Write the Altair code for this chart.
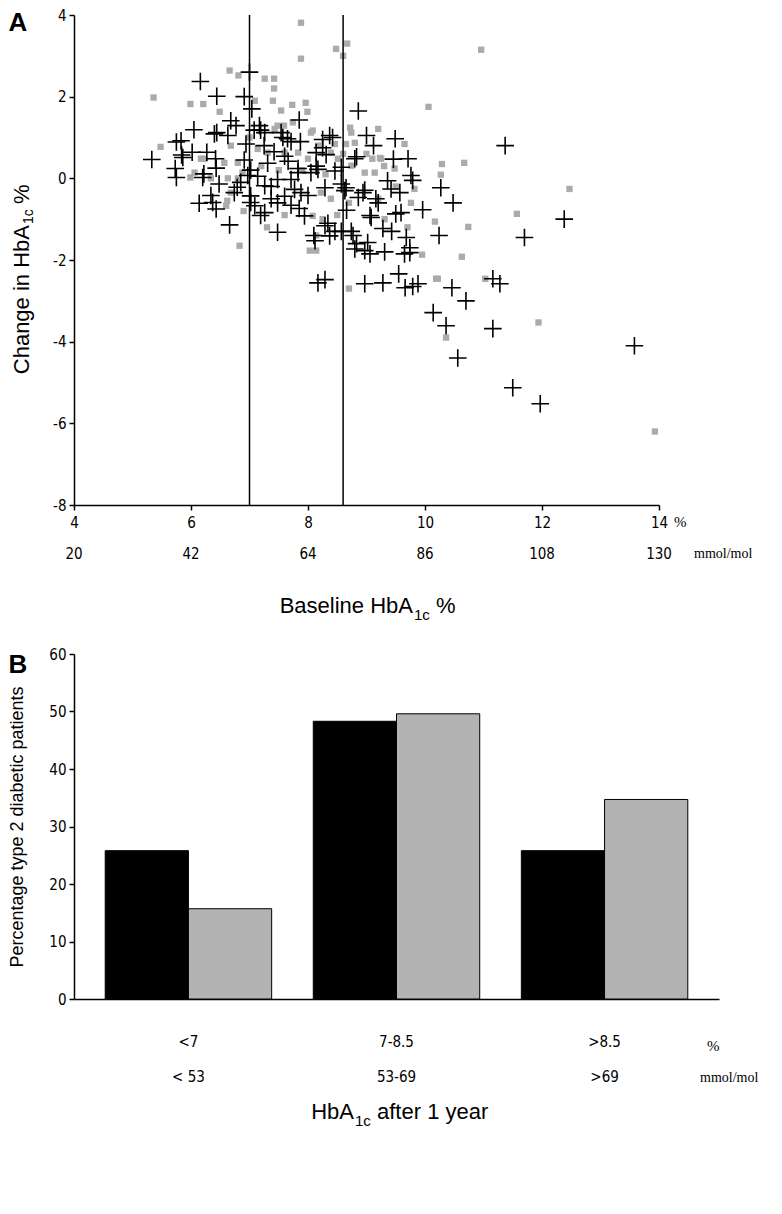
import altair as alt
import pandas as pd

# ---------------- Panel A data ----------------
cross_x = [5.33, 5.75, 5.73, 5.75, 5.84, 6.05, 6.16, 6.44, 6.44, 6.68, 6.66, 6.14, 6.37, 6.43, 6.22,
           6.02, 6.27, 6.43, 6.48, 6.34, 6.63, 6.79, 6.91, 7.0, 7.02, 6.94, 6.91, 7.02, 7.08, 7.19,
           7.25, 7.19, 7.48, 7.02, 7.14, 7.31, 7.42, 7.57, 7.71, 7.85, 7.87, 7.6, 7.66, 7.48, 7.37,
           7.6, 7.71, 7.83, 7.77, 7.71, 7.85, 8.0, 8.1, 8.17, 8.14, 8.25, 8.37, 8.31, 8.46, 8.57,
           8.57, 8.63, 8.66, 8.34, 8.46, 8.57, 8.74, 8.83, 8.86, 8.83, 8.97, 8.86, 9.0, 9.12, 8.97,
           9.08, 9.31, 9.43, 9.49, 9.46,
           8.17, 8.29, 8.97, 9.28, 9.55, 9.66, 9.79, 9.88, 10.46, 10.7, 10.14, 10.36, 11.16, 10.56,
           11.16, 11.28, 11.5, 11.97, 13.58,
           11.37, 10.27, 10.48, 9.96, 10.24, 11.7, 12.38, 9.76, 9.57, 9.71, 8.8, 9.36, 8.94, 9.16,
           9.06, 9.5, 9.28, 9.68, 8.77, 9.02, 8.8, 9.06, 9.65, 9.74,
           8.12, 8.37, 9.59, 9.74, 9.2, 9.42, 8.65, 8.05, 8.29, 7.88, 7.94, 7.26, 7.48, 7.37, 7.26,
           7.83, 8.29,
           8.42, 8.25, 7.65, 7.54, 8.14, 7.26,
           6.2, 6.74, 7.09, 6.85, 6.97,
           7.04, 6.77, 6.4, 5.83, 5.86, 6.42, 7.17, 9.79]
cross_y = [0.46, 0.89, 0.24, 0.02, 0.57, 1.19, 2.37, 2.01, 1.12, 1.41, -1.14, -0.61, -0.59, -0.75, 0.11,
           0.64, 0.64, 0.25, -0.14, -0.42, 1.05, -0.22, 2.0, 2.6, -0.43, 0.84, 0.45, 0.2, 1.18, 1.18,
           0.8, -0.91, -1.32, -0.59, 0.05, 0.37, 0.65, 1.0, 0.9, 1.43, 0.9, 0.54, 0.42, -0.03, -0.2,
           -0.44, -0.03, 0.14, -0.27, -0.66, -0.74, -0.42, -1.4, 0.22, 0.3, 0.95, 1.05, 0.58, 0.18, 0.27,
           -0.14, -0.3, -0.78, -1.1, -1.3, -1.3, -1.3, -1.6, 1.65, 0.53, -0.29, -0.47, 1.05, 0.8, -1.77,
           -0.96, -1.8, -1.3, 0.97, 0.47,
           -2.56, -2.48, -2.58, -2.56, -2.34, -2.68, -2.65, -2.58, -2.68, -3.0, -3.29, -3.61, -3.68, -4.4,
           -2.46, -2.58, -5.13, -5.52, -4.1,
           0.8, -0.23, -0.6, -0.77, -1.4, -1.45, -1.0, 0.07, -0.35, 0.48, 0.48, -0.06, -0.35, -0.5,
           -0.91, -0.87, -1.23, -1.45, -1.4, -1.57, -1.73, -1.85, -1.85, -1.82,
           -1.53, -1.41, -0.84, -1.7, -0.6, -0.26, -0.23, 0.14, -0.23, -0.35, -0.92, -0.84, -0.6, -0.5, -0.18,
           0.24, -1.16,
           1.0, 0.75, 0.97, 1.12, 0.63, 1.12,
           0.02, -0.35, -0.67, -0.1, 0.07,
           1.7, 1.29, 1.09, 0.92, 0.51, 0.48, 1.29, -0.05]

gray_x = [5.36, 5.48, 5.99, 6.21, 5.99, 6.49, 6.66, 6.81, 6.83, 7.09, 7.26, 7.42, 7.42, 7.4, 7.54,
          7.73, 7.96, 7.99, 7.88, 7.88, 8.67, 8.6, 8.48, 7.59, 8.08, 8.03, 8.14, 8.14, 6.17, 6.06,
          6.6, 6.62, 6.68, 6.8, 6.88, 7.14, 7.31, 7.43, 7.6, 7.83, 8.0, 8.05, 8.17, 8.39, 8.51,
          8.74, 8.74, 8.8, 8.97, 8.22, 8.39, 8.25, 8.08, 9.25, 9.14, 9.31, 9.2, 6.57, 6.34, 6.23,
          6.63, 6.8, 6.68,
          8.7, 10.22, 11.03, 11.94, 10.36, 13.93,
          10.96, 10.06, 10.29, 10.67, 10.27, 12.47, 11.57, 10.74, 10.17, 9.76, 9.95, 10.63, 10.19, 9.2,
          9.65, 9.1, 9.23, 9.48, 9.82,
          7.74, 8.72, 7.48, 8.46, 8.65,
          7.0, 7.2, 7.5, 7.9, 8.3, 8.6, 9.0, 9.3, 6.9, 7.6, 8.7, 9.5, 7.3, 8.5, 9.7]
gray_y = [1.98, 0.77, 1.82, 1.82, 0.02, 1.63, 2.64, 2.52, -1.65, 1.9, 2.44, 2.44, 2.2, 1.9, 1.66,
          1.8, 1.85, 1.63, 3.81, 2.93, 3.3, 3.0, 3.17, 1.29, 1.17, -1.77, -1.77, -1.4, 0.48, 0.14,
          -0.67, -0.55, 0.8, 0.38, 0.14, 0.72, 0.63, 1.21, 0.63, 0.63, 0.48, 1.12, 0.8, 0.63, 0.48,
          0.31, 1.12, 0.87, 0.14, -0.35, -0.5, -1.0, -0.92, 0.48, 0.14, -1.0, -0.5, 0.38, 0.0, 0.48,
          0.0, 0.0, -0.35,
          -2.7, -2.46, -2.46, -3.53, -3.9, -6.2,
          3.15, 1.75, 0.35, 0.38, 0.09, -0.26, -0.87, -1.19, -1.06, -0.6, -1.87, -1.92, -2.46, 1.21,
          0.84, 0.48, 0.5, 0.24, -0.26,
          1.37, 1.24, 1.29, 0.84, 0.84,
          1.0, 0.3, 0.2, 0.2, 0.1, 0.6, 0.6, 0.3, -0.8, -0.9, -0.6, -0.2, -1.2, -0.9, -1.2]

cut_points = [7.0, 8.6]
pct_ticks = [4, 6, 8, 10, 12, 14]
mmol_ticks = ["20", "42", "64", "86", "108", "130"]
y_ticks_a = [-8, -6, -4, -2, 0, 2, 4]

# ---------------- Panel B data ----------------
categories = ["<7", "7-8.5", ">8.5"]
categories_mmol = ["< 53", "53-69", ">69"]
series = ["first", "second"]
black_values = [25.8, 48.3, 25.8]
gray_values = [15.7, 49.6, 34.7]
y_ticks_b = [0, 10, 20, 30, 40, 50, 60]

SANS = "Liberation Sans, Arial, sans-serif"
NARROW = "Liberation Sans Narrow, Arial Narrow, DejaVu Sans Condensed, Liberation Sans, sans-serif"
SERIF = "Liberation Serif, Times New Roman, serif"
HYPHEN_LABEL = "'' + datum.value"


def txt(s, x, y, **kw):
    return alt.Chart(alt.Data(values=[{"t": s}])).mark_text(**kw).encode(
        x=alt.value(x), y=alt.value(y), text="t:N")


# ---------------- Panel A ----------------
WA, HA = 585, 490
xs = alt.Scale(domain=[4, 14], nice=False, zero=False)
ys = alt.Scale(domain=[-8, 4], nice=False, zero=False)
x_axis_a = alt.Axis(values=pct_ticks, title=None, grid=False, tickSize=5, labelPadding=5,
                    labelFont=NARROW, labelFontSize=15, domainWidth=1.5, tickWidth=1.5,
                    labelFlush=False)
y_axis_a = alt.Axis(values=y_ticks_a, title=None, grid=False, tickSize=5, labelPadding=3,
                    labelFont=NARROW, labelFontSize=15, domainWidth=1.5, tickWidth=1.5,
                    labelExpr=HYPHEN_LABEL)


def XA(f):
    return alt.X(f, scale=xs, axis=x_axis_a)


def YA(f):
    return alt.Y(f, scale=ys, axis=y_axis_a)


gray_df = pd.DataFrame({"baseline": gray_x, "change": gray_y})
cross_df = pd.DataFrame({"baseline": cross_x, "change": cross_y})

gray = alt.Chart(gray_df).mark_point(shape="square", filled=True, size=40, color="#ababab",
                                     opacity=1).encode(x=XA("baseline:Q"), y=YA("change:Q"))
crosses = alt.Chart(cross_df).mark_point(shape="M-1,0L1,0M0,-1L0,1", filled=False, size=310,
                                         color="black", strokeWidth=1.6, opacity=1).encode(
    x=XA("baseline:Q"), y=YA("change:Q"))
rules = alt.Chart(pd.DataFrame({"baseline": cut_points})).mark_rule(
    color="black", strokeWidth=1.5).encode(x=XA("baseline:Q"))
mmol_df = pd.DataFrame({"baseline": pct_ticks, "mmol": mmol_ticks})
mmol_a = alt.Chart(mmol_df).mark_text(font=NARROW, fontSize=15, baseline="middle").encode(
    x=XA("baseline:Q"), y=alt.value(HA + 49), text="mmol:N")

texts_a = [
    txt("%", 600, HA + 17, font=SERIF, fontSize=15, align="left", baseline="middle"),
    txt("mmol/mol", 620, HA + 49, font=SERIF, fontSize=14, align="left", baseline="middle"),
    txt("Baseline HbA", 339, HA + 108, font=SANS, fontSize=22, align="right", baseline="alphabetic"),
    txt("1c", 340, HA + 115, font=SANS, fontSize=15, align="left", baseline="alphabetic"),
    txt("%", 362, HA + 108, font=SANS, fontSize=22, align="left", baseline="alphabetic"),
    txt("Change in HbA", -52, 210, font=SANS, fontSize=22, angle=270, align="right", baseline="middle"),
    txt("1c", -45, 209, font=SANS, fontSize=14, angle=270, align="left", baseline="middle"),
    txt("%", -52, 189, font=SANS, fontSize=22, angle=270, align="left", baseline="middle"),
    txt("A", -56, 8, font=SANS, fontSize=26, fontWeight="bold", baseline="middle"),
]

panel_a = alt.layer(gray, crosses, rules, mmol_a, *texts_a).properties(width=WA, height=HA)

# ---------------- Panel B ----------------
WB, HB = 645, 345
bar_df = pd.DataFrame({
    "cat": categories * 2,
    "group": [series[0]] * 3 + [series[1]] * 3,
    "pct": black_values + gray_values,
})
xb_scale = alt.Scale(domain=categories, paddingInner=0.2, paddingOuter=0.15)
xb_axis = alt.Axis(title=None, ticks=False, labelAngle=0, labelPadding=42, labelFont=NARROW,
                   labelFontSize=15, domainWidth=1.5, labelBaseline="middle")
yb_axis = alt.Axis(values=y_ticks_b, title="Percentage type 2 diabetic patients", titleFont=SANS,
                   titleFontSize=18, titleFontWeight="normal", titlePadding=22, grid=False,
                   tickSize=5, labelPadding=3, labelFont=NARROW, labelFontSize=15,
                   domainWidth=1.5, tickWidth=1.5, titleColor="black")

bars = alt.Chart(bar_df).mark_bar(stroke="black", strokeWidth=1).encode(
    x=alt.X("cat:N", sort=categories, scale=xb_scale, axis=xb_axis),
    xOffset=alt.XOffset("group:N", sort=series, scale=alt.Scale(paddingInner=0, paddingOuter=0)),
    y=alt.Y("pct:Q", scale=alt.Scale(domain=[0, 60], nice=False), axis=yb_axis),
    color=alt.Color("group:N", scale=alt.Scale(domain=series, range=["#000000", "#b3b3b3"]),
                    legend=None),
)
mmol_b = alt.Chart(pd.DataFrame({"cat": categories, "mmol": categories_mmol})).mark_text(
    font=NARROW, fontSize=15, baseline="middle").encode(
    x=alt.X("cat:N", sort=categories, scale=xb_scale, axis=xb_axis),
    y=alt.value(HB + 78), text="mmol:N")

texts_b = [
    txt("%", 633, HB + 47, font=SERIF, fontSize=15, align="left", baseline="middle"),
    txt("mmol/mol", 626, HB + 79, font=SERIF, fontSize=14, align="left", baseline="middle"),
    txt("HbA", 280, HB + 120, font=SANS, fontSize=22, align="right", baseline="alphabetic"),
    txt("1c", 281, HB + 127, font=SANS, fontSize=15, align="left", baseline="alphabetic"),
    txt("after 1 year", 303, HB + 120, font=SANS, fontSize=22, align="left", baseline="alphabetic"),
    txt("B", -56, 11, font=SANS, fontSize=26, fontWeight="bold", baseline="middle"),
]

panel_b = alt.layer(bars, mmol_b, *texts_b).properties(width=WB, height=HB)

chart = alt.vconcat(panel_a, panel_b, spacing=24).properties(padding=0).configure_view(
    stroke=None).configure_axis(domainColor="black", tickColor="black", labelColor="black",
                                titleColor="black")

chart.save("out.html", embed_options={"renderer": "svg", "actions": False})
